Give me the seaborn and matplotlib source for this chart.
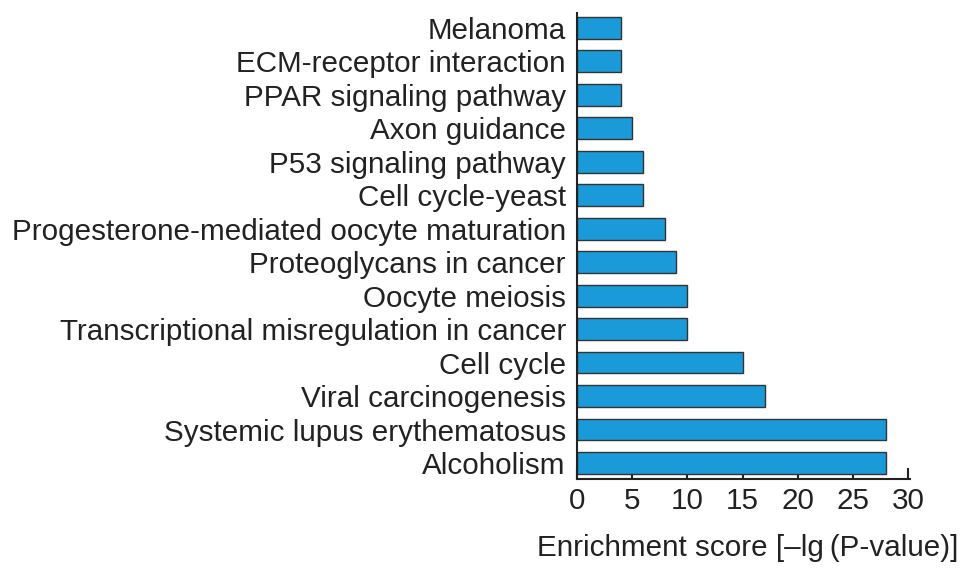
import matplotlib
matplotlib.use("Agg")
import matplotlib.pyplot as plt
import seaborn as sns
import pandas as pd

# ============================================== DATA ==============================================
pathways = [
    "Melanoma",
    "ECM-receptor interaction",
    "PPAR signaling pathway",
    "Axon guidance",
    "P53 signaling pathway",
    "Cell cycle-yeast",
    "Progesterone-mediated oocyte maturation",
    "Proteoglycans in cancer",
    "Oocyte meiosis",
    "Transcriptional misregulation in cancer",
    "Cell cycle",
    "Viral carcinogenesis",
    "Systemic lupus erythematosus",
    "Alcoholism",
]
scores = [4, 4, 4, 5, 6, 6, 8, 9, 10, 10, 15, 17, 28, 28]
x_ticks = [0, 5, 10, 15, 20, 25, 30]

df = pd.DataFrame({"pathway": pathways, "score": scores})

# ============================================== STYLE ==============================================
sns.set_style("ticks")
plt.rcParams["font.family"] = ["Liberation Sans", "DejaVu Sans"]
plt.rcParams["font.size"] = 21

FS = 21.3

# ============================================== PLOT ==============================================
fig = plt.figure(figsize=(9.69, 5.8), dpi=100)
ax = fig.add_axes([0.5955, 0.174, 0.344, 0.804])

sns.barplot(data=df, x="score", y="pathway", orient="h", color="#1a9ad8",
            saturation=1, width=0.65, edgecolor="#333333", linewidth=1.0, ax=ax)

ax.set_xlim(0, 30.2)
ax.set_ylim(13.48, -0.45)
ax.set_xticks(x_ticks)
ax.set_xticklabels([str(t) for t in x_ticks], fontsize=FS)
ax.tick_params(axis="x", direction="in", length=8, width=1.5, pad=6, colors="#222222")
ax.tick_params(axis="y", length=0, pad=8, labelsize=FS, colors="#222222")
for lab in ax.get_xticklabels() + ax.get_yticklabels():
    lab.set_color("#222222")

sns.despine(ax=ax)
ax.spines["left"].set_linewidth(1.5)
ax.spines["bottom"].set_linewidth(1.5)
ax.spines["left"].set_color("#222222")
ax.spines["bottom"].set_color("#222222")

ax.set_ylabel("")
ax.set_xlabel("Enrichment score [\u2013lg\u2009(P-value)]", fontsize=FS, color="#222222")
ax.xaxis.set_label_coords(1.145, -0.118)
ax.xaxis.label.set_horizontalalignment("right")

fig.savefig("out.png", dpi=100, facecolor="white")
